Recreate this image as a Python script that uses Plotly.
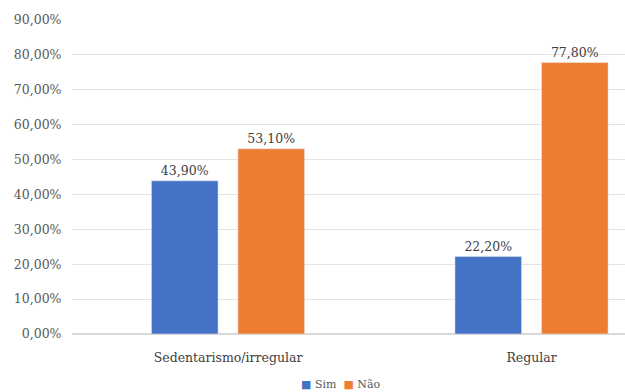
import plotly.graph_objects as go

categories = ["Sedentarismo/irregular", "Regular"]
sim_values = [0.439, 0.222]
nao_values = [0.531, 0.778]
series_names = ["Sim", "Não"]

BLUE = "#4472C4"
ORANGE = "#ED7D31"
FONT = "DejaVu Serif"

fig = go.Figure()
for name, vals, col in [(series_names[0], sim_values, BLUE), (series_names[1], nao_values, ORANGE)]:
    fig.add_trace(go.Bar(
        x=categories, y=vals, name=name, marker_color=col,
        texttemplate="%{y:.2%}", textposition="outside",
        textfont=dict(family=FONT, size=12.5, color="#404040"),
        cliponaxis=False,
    ))

fig.update_layout(
    width=625, height=392,
    margin=dict(l=72, r=0, t=20, b=58, autoexpand=False),
    paper_bgcolor="white", plot_bgcolor="white",
    separators=",.",
    barmode="group", bargap=0.43, bargroupgap=0.23,
    font=dict(family=FONT, size=12, color="#595959"),
    showlegend=False,
    xaxis=dict(range=[-0.514, 1.308], showgrid=False, showline=False, zeroline=False,
               ticks="outside", ticklen=12, tickcolor="rgba(0,0,0,0)", automargin=False,
               tickfont=dict(family=FONT, size=12.5, color="#404040")),
    yaxis=dict(range=[0, 0.9], dtick=0.1, tickformat=".2%", showgrid=True,
               gridcolor="#E3E3E3", gridwidth=1, zeroline=True, zerolinecolor="#D9D9D9",
               showline=False, ticks="outside", ticklen=7, tickcolor="rgba(0,0,0,0)",
               automargin=False,
               tickfont=dict(family=FONT, size=12.5, color="#595959")),
)

fig.add_annotation(
    xref="paper", yref="paper", x=0.485, y=-0.16, xanchor="center", yanchor="middle",
    showarrow=False,
    text=(f"<span style='color:{BLUE}'>■</span> {series_names[0]}  "
          f"<span style='color:{ORANGE}'>■</span> {series_names[1]}"),
    font=dict(family=FONT, size=11, color="#595959"),
)

fig.write_html("out.html")
